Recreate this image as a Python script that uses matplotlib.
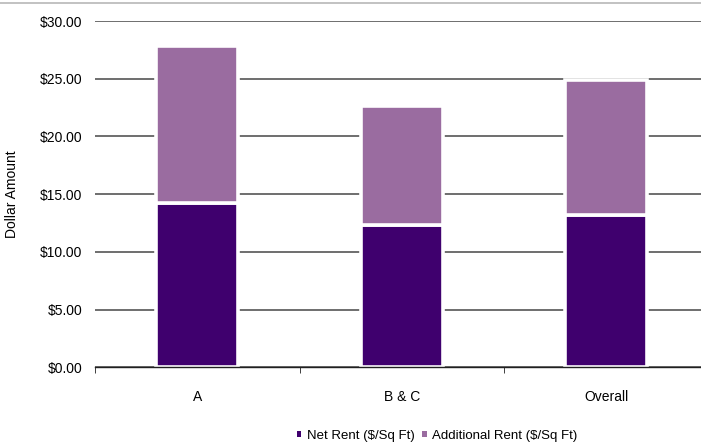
import matplotlib
matplotlib.use("Agg")
import matplotlib.pyplot as plt
from matplotlib.lines import Line2D
from matplotlib.patches import Patch
from matplotlib.ticker import FuncFormatter, FixedLocator

plt.rcParams['font.family'] = ['Liberation Sans', 'DejaVu Sans']

# rent per square foot by building class
categories = ['A', 'B & C', 'Overall']
net_rent = [14.2, 12.3, 13.2]
additional_rent = [13.6, 10.3, 11.7]
series_names = ['Net Rent ($/Sq Ft)', 'Additional Rent ($/Sq Ft)']

net_color = '#3f006e'
add_color = '#9a6ca0'

fig = plt.figure(figsize=(7.01, 4.45), dpi=100)
ax = fig.add_axes([95 / 701, 1 - 367.3 / 445, 613.5 / 701, (367.3 - 21) / 445])

x = range(len(categories))
ax.bar(x, net_rent, width=0.40, color=net_color, edgecolor='white',
       linewidth=2.6, zorder=2)
ax.bar(x, additional_rent, bottom=net_rent, width=0.40, color=add_color,
       edgecolor='white', linewidth=2.6, zorder=2)

ax.set_xlim(-0.5, 2.5)
ax.set_ylim(0, 30)
ax.set_yticks([0, 5, 10, 15, 20, 25, 30])
ax.yaxis.set_major_formatter(FuncFormatter(lambda v, p: f'${v:,.2f}'))
ax.grid(axis='y', color='#555555', linewidth=1.2, zorder=1)
ax.set_axisbelow(True)

for side in ['left', 'right', 'top']:
    ax.spines[side].set_visible(False)
ax.spines['bottom'].set_color('#202020')
ax.spines['bottom'].set_linewidth(1.0)

ax.set_xticks(list(x))
ax.set_xticklabels(categories)
ax.xaxis.set_minor_locator(FixedLocator([-0.5, 0.5, 1.5, 2.5]))
ax.tick_params(axis='x', which='major', length=0, pad=16, labelsize=10)
ax.tick_params(axis='x', which='minor', length=4, direction='out', color='#202020')
ax.tick_params(axis='y', length=0, pad=9, labelsize=10)

ax.set_ylabel('Dollar Amount', fontsize=10)
ax.yaxis.set_label_coords(-76 / 613.5, 0.5)

# legend: small square swatches without the white bar edge
handles = [Patch(facecolor=net_color, edgecolor='none'),
           Patch(facecolor=add_color, edgecolor='none')]
fig.legend(handles, series_names, loc='center', bbox_to_anchor=(437 / 701, 1 - 436 / 445),
           ncol=2, frameon=False, fontsize=9.5, handlelength=0.35, handleheight=0.35,
           handletextpad=0.4, columnspacing=0.6)

fig.add_artist(Line2D([0, 1], [1 - 2.5 / 445, 1 - 2.5 / 445], color='#b8b8b8',
                      linewidth=1.2, transform=fig.transFigure))

fig.savefig('out.png', dpi=100)
